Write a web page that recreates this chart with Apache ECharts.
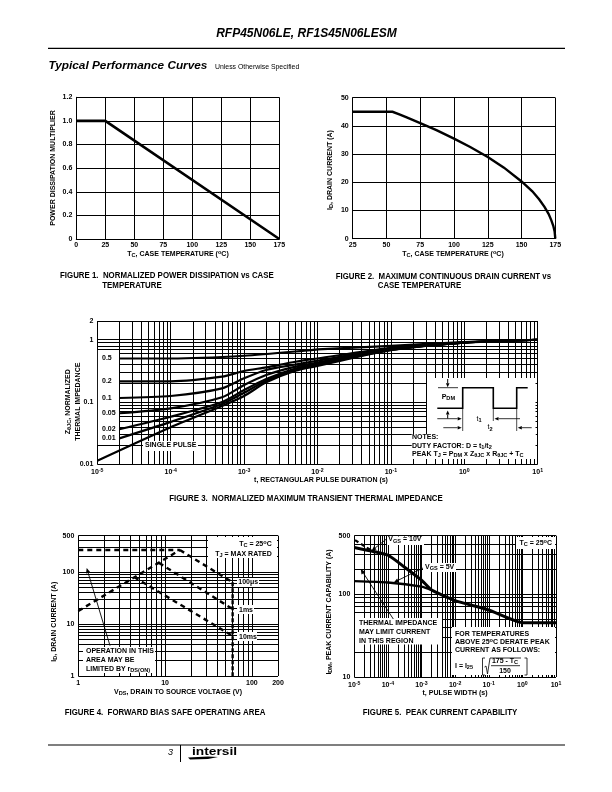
<!DOCTYPE html>
<html><head><meta charset="utf-8">
<script src="https://cdn.jsdelivr.net/npm/echarts@6/dist/echarts.min.js"></script>
<style>html,body{margin:0;padding:0;background:#fff}#c{width:612px;height:792px}</style>
</head><body><div id="c"></div>
<script>
// ---------- Figure 1
var fig1Curve = [[0,1],[25,1],[175,0]];
// ---------- Figure 2
var fig2Curve = [[25,45],[54.5,45],[60,44],[65,43],[75,41],[87,38.5],[100,35.5],[112,32.5],[125,29],[137,25.2],[150,20.3],[158,16.8],[163,14],[167,11.3],[170,8.8],[172,6.6],[173.5,4.6],[174.5,2.6],[175,0]];
// ---------- Figure 3
var fig3Gridx = [1e-5,2e-5,3e-5,4e-5,5e-5,6e-5,7e-5,8e-5,9e-5,1e-4,2e-4,3e-4,4e-4,5e-4,6e-4,7e-4,8e-4,9e-4,1e-3,2e-3,3e-3,4e-3,5e-3,6e-3,7e-3,8e-3,9e-3,1e-2,2e-2,3e-2,4e-2,5e-2,6e-2,7e-2,8e-2,9e-2,0.1,0.2,0.3,0.4,0.5,0.6,0.7,0.8,0.9,1,2,3,4,5,6,7,8,9,10];
var fig3Gridy = [0.01,0.02,0.03,0.04,0.05,0.06,0.07,0.08,0.09,0.1,0.2,0.3,0.4,0.5,0.6,0.7,0.8,0.9,1,2];
var z05 = [[2e-5,0.50],[1e-4,0.50],[1e-3,0.553],[8e-3,0.68],[1e-2,0.70],[1e-1,0.80],[1,0.92],[10,1]];
var z02 = [[2e-5,0.215],[1e-4,0.215],[5e-4,0.255],[1e-3,0.315],[2e-3,0.36],[5e-3,0.443],[1e-2,0.50],[1e-1,0.74],[1,0.91],[10,1]];
var z01 = [[2e-5,0.116],[1e-4,0.125],[5e-4,0.166],[1e-3,0.24],[2e-3,0.326],[5e-3,0.40],[1e-2,0.46],[1e-1,0.72],[1,0.90],[10,1]];
var z005 = [[2e-5,0.066],[1e-4,0.079],[5e-4,0.119],[1e-3,0.187],[2e-3,0.271],[5e-3,0.37],[1e-2,0.43],[1e-1,0.70],[1,0.90],[10,1]];
var z002 = [[2e-5,0.0365],[1e-4,0.058],[5e-4,0.10],[1e-3,0.156],[2e-3,0.235],[5e-3,0.345],[1e-2,0.41],[1e-1,0.69],[1,0.90],[10,1]];
var z001 = [[2e-5,0.0261],[1e-4,0.048],[5e-4,0.093],[1e-3,0.141],[2e-3,0.22],[5e-3,0.33],[1e-2,0.395],[1e-1,0.685],[1,0.90],[10,1]];
var zSingle = [[1e-5,0.0114],[1e-4,0.0393],[5e-4,0.0863],[1e-3,0.125],[2e-3,0.207],[5e-3,0.318],[1e-2,0.38],[1e-1,0.68],[1,0.90],[10,1]];
// ---------- Figure 4
var fig4Gridx = [1,2,3,4,5,6,7,8,9,10,20,30,40,50,60,70,80,90,100,200];
var fig4Gridy = [1,2,3,4,5,6,7,8,9,10,20,30,40,50,60,70,80,90,100,200,300,400,500];
var soaDc = [[1,265],[14.8,265]];
var soaRds = [[1,17.8],[14.8,265]];
var soa100us = [[14.8,265],[60,63.4]];
var soa1ms = [[8.5,150],[60,19.4]];
var soa10ms = [[4.4,80],[60,5.9]];
var soaLimit = [[60,63.4],[60,1]];
// ---------- Figure 5
var fig5Gridx = fig3Gridx;
var fig5Gridy = [10,20,30,40,50,60,70,80,90,100,200,300,400,500];
var vgs10 = [[1e-5,361],[1e-4,292],[3e-4,212],[1e-3,146],[2e-3,111],[1e-2,82.7],[1e-1,63.9],[1,45],[10,45]];
var vgs5 = [[1e-5,142],[1e-4,137],[1e-3,122],[2e-3,111]];
var vgs10Dash = [[1.05e-5,443],[4.1e-5,312]];

var FONT = 'Liberation Sans';
var subS = {fontFamily:FONT,fontWeight:'bold',fontSize:5.6,verticalAlign:'bottom',padding:[3,0,0,0]};
var supS = {fontFamily:FONT,fontWeight:'bold',fontSize:5.6,verticalAlign:'top',padding:[0,0,3,0]};
var RICH = {s:subS,u:supS};

function txt(x,y,t,o){o=o||{};
  return {type:'text',x:x,y:y,z:100,rotation:o.rot||0,silent:true,scaleX:o.sx||1,
    style:{text:t,fontFamily:FONT,fontWeight:o.w||'bold',fontStyle:o.i?'italic':'normal',fontSize:o.f||7,
      align:o.a||'left',verticalAlign:'middle',fill:o.c||'#000',rich:RICH}};
}
function seg(x1,y1,x2,y2,w){return {type:'line',z:100,silent:true,shape:{x1:x1,y1:y1,x2:x2,y2:y2},style:{stroke:'#000',lineWidth:w||1}};}
function arrow(x1,y1,x2,y2,w,h){h=h||4;var a=Math.atan2(y2-y1,x2-x1),b=h*0.45;
  var bx=x2-h*Math.cos(a),by=y2-h*Math.sin(a);
  return [seg(x1,y1,bx,by,w||0.8),{type:'polygon',z:100,silent:true,shape:{points:[[x2,y2],[bx+b*Math.sin(a),by-b*Math.cos(a)],[bx-b*Math.sin(a),by+b*Math.cos(a)]]},style:{fill:'#000'}}];
}

var L = [
 {g:[76.3,97.3,203,141.7],x:[0,175],y:[0,1.2]},
 {g:[352.7,97.7,202.6,141],x:[25,175],y:[0,50]},
 {g:[97.3,321,440.4,143.3],x:[1e-5,10],y:[0.01,2],log:1},
 {g:[78.3,535.7,199.7,140.3],x:[1,200],y:[1,500],log:1},
 {g:[354.3,535.7,201.7,141.3],x:[1e-5,10],y:[10,500],log:1}
];
function pd(i,px,py){var c=L[i],g=c.g,fx=(px-g[0])/g[2],fy=(g[1]+g[3]-py)/g[3];
  var lx=Math.log10(c.x[0]),hx=Math.log10(c.x[1]),ly=Math.log10(c.y[0]),hy=Math.log10(c.y[1]);
  return [Math.pow(10,lx+fx*(hx-lx)),Math.pow(10,ly+fy*(hy-ly))];}
function boxes(i,list){return list.map(function(b){return [{coord:pd(i,b[0],b[3])},{coord:pd(i,b[2],b[1])}];});}

var baseAxis={axisTick:{show:false},axisLine:{show:false},splitLine:{show:false},minorTick:{show:false}};
var labelBase={fontFamily:FONT,fontWeight:'bold',fontSize:7,color:'#000'};
var grids=[],xA=[],yA=[],series=[];
function addAxes(i,xo,yo){var g=L[i].g;
  grids.push({left:g[0],top:g[1],width:g[2],height:g[3],show:false,containLabel:false});
  xA.push(Object.assign({gridIndex:i,min:L[i].x[0],max:L[i].x[1]},baseAxis,xo));
  yA.push(Object.assign({gridIndex:i,min:L[i].y[0],max:L[i].y[1]},baseAxis,yo));
}
var linLine={show:true,lineStyle:{color:'#000',width:1}};
var linSplit={show:true,lineStyle:{color:'#000',width:1}};
addAxes(0,{type:'value',interval:25,axisLine:linLine,splitLine:linSplit,axisLabel:Object.assign({margin:3},labelBase)},
          {type:'value',interval:0.2,axisLine:linLine,splitLine:linSplit,axisLabel:Object.assign({margin:4,formatter:function(v){return v===0?'0':v.toFixed(1);}},labelBase)});
addAxes(1,{type:'value',interval:25,axisLine:linLine,splitLine:linSplit,axisLabel:Object.assign({margin:3},labelBase)},
          {type:'value',interval:10,axisLine:linLine,splitLine:linSplit,axisLabel:Object.assign({margin:4},labelBase)});
var expLabel=Object.assign({margin:4,rich:{a:{fontFamily:FONT,fontWeight:'bold',fontSize:7,color:'#000'},e:{fontFamily:FONT,fontWeight:'bold',fontSize:5.2,color:'#000',verticalAlign:'top',padding:[0,0,3,0]}},
  formatter:function(v){return '{a|10}{e|'+Math.round(Math.log10(v))+'}';}},labelBase);
function plain(v){return String(+(+v).toPrecision(3));}
addAxes(2,{type:'log',logBase:10,axisLabel:expLabel},
          {type:'log',logBase:10,axisLabel:Object.assign({margin:4,formatter:plain},labelBase)});
addAxes(3,{type:'log',logBase:10,axisLabel:Object.assign({margin:4,formatter:plain,showMaxLabel:true},labelBase)},
          {type:'log',logBase:10,axisLabel:Object.assign({margin:4,formatter:plain,showMaxLabel:true},labelBase)});
addAxes(4,{type:'log',logBase:10,axisLabel:expLabel},
          {type:'log',logBase:10,axisLabel:Object.assign({margin:4,formatter:plain,showMaxLabel:true},labelBase)});

function gridSeries(i,gx,gy,bx){
  var d=gx.map(function(v){return {xAxis:v};}).concat(gy.map(function(v){return {yAxis:v};}));
  series.push({type:'line',xAxisIndex:i,yAxisIndex:i,data:[],silent:true,animation:false,z:1,
    markLine:{z:1,silent:true,symbol:'none',animation:false,precision:10,label:{show:false},emphasis:{disabled:true},lineStyle:{color:'#000',width:1,type:'solid'},data:d},
    markArea:{z:2,silent:true,animation:false,itemStyle:{color:'#fff',opacity:1},label:{show:false},data:bx}});
}
function curve(i,d,w,dash,sm){
  series.push({type:'line',xAxisIndex:i,yAxisIndex:i,data:d,symbol:'none',z:4,silent:true,animation:false,smooth:sm||false,clip:true,
    lineStyle:{color:'#000',width:w,type:dash||'solid',cap:'butt',join:'miter'}});
}
curve(0,fig1Curve,2.6);
curve(1,fig2Curve,2.4);
gridSeries(2,fig3Gridx,fig3Gridy,boxes(2,[[97.9,350,119,445],[143,441,198,451],[427,378,535.5,435],[411.7,434,535.5,459]]));
[z05,z02,z01,z005,z002,z001,zSingle].forEach(function(c){curve(2,c,2.2,null,0.25);});
gridSeries(3,fig4Gridx,fig4Gridy,boxes(3,[[208,537,277,558],[237,578,259,587],[237,605,254,614],[237,632,257,641],[83,647,155,673]]));
[soaDc,soaRds,soa100us,soa1ms,soa10ms].forEach(function(c){curve(3,c,2.4,[5,4]);});
curve(3,soaLimit,2.4,[4,2]);
gridSeries(4,fig5Gridx,fig5Gridy,boxes(4,[[387,536.5,424,545],[516,537,555,549],[423,563,456,572],[355,618,442,644.5],[452,627,555,675]]));
curve(4,vgs10,3,null,0.15);
curve(4,vgs5,2.4,null,0.15);
curve(4,vgs10Dash,2.2,[4,3]);

var F=8.5,SX=0.927;
var g=[];
function add(a){if(Array.isArray(a))a.forEach(function(e){g.push(e);});else g.push(a);}
// page furniture
add(txt(306.5,33.5,'RFP45N06LE, RF1S45N06LESM',{f:12,i:1,a:'center'}));
add(seg(48,48.3,565,48.3,1.2));
add(txt(48.5,66,'Typical Performance Curves',{f:11.8,i:1}));
add(txt(215,67.5,'Unless Otherwise Specified',{f:6.9,w:'normal'}));
add(seg(48,745,565,745,1.2));
add(seg(180.5,745,180.5,762,1));
add(txt(168,752.5,'3',{f:9,w:'normal',i:1}));
add(txt(192,752,'intersil',{f:11,w:'900',sx:1.25}));
add({type:'polygon',z:100,silent:true,shape:{points:[[188,757.5],[208,756.5],[218,757],[208,759],[190,759.5]]},style:{fill:'#000'}});
// Fig 1
add(txt(53.3,168,'POWER DISSIPATION MULTIPLIER',{rot:Math.PI/2,a:'center'}));
add(txt(178,254,'T{s|C}, CASE TEMPERATURE ({u|o}C)',{a:'center'}));
add(txt(60,275.7,'FIGURE 1.  NORMALIZED POWER DISSIPATION vs CASE',{f:F,sx:SX}));
add(txt(102.3,285.3,'TEMPERATURE',{f:F,sx:SX}));
// Fig 2
add(txt(330,170,'I{s|D}, DRAIN CURRENT (A)',{rot:Math.PI/2,a:'center'}));
add(txt(453,253.7,'T{s|C}, CASE TEMPERATURE ({u|o}C)',{a:'center'}));
add(txt(335.7,276.7,'FIGURE 2.  MAXIMUM CONTINUOUS DRAIN CURRENT vs',{f:F,sx:SX}));
add(txt(377.7,286,'CASE TEMPERATURE',{f:F,sx:SX}));
// Fig 3
add(txt(68.3,401.7,'Z{s|θJC}, NORMALIZED',{rot:Math.PI/2,a:'center'}));
add(txt(78.3,401.7,'THERMAL IMPEDANCE',{rot:Math.PI/2,a:'center'}));
add(txt(321,480,'t, RECTANGULAR PULSE DURATION (s)',{a:'center'}));
add(txt(306,499,'FIGURE 3.  NORMALIZED MAXIMUM TRANSIENT THERMAL IMPEDANCE',{f:F,sx:SX,a:'center'}));
[['0.5',357.7],['0.2',380.7],['0.1',398.3],['0.05',412.7],['0.02',429.5],['0.01',438.5]].forEach(function(p){add(txt(102,p[1],p[0]));});
add(txt(145,444.8,'SINGLE PULSE'));
add(txt(412,437,'NOTES:'));
add(txt(412,445.7,'DUTY FACTOR: D = t{s|1}/t{s|2}'));
add(txt(412,453.7,'PEAK T{s|J} = P{s|DM} x Z{s|θJC} x R{s|θJC} + T{s|C}'));
add({type:'polyline',z:100,silent:true,shape:{points:[[437.3,408.3],[462.7,408.3],[462.7,387.7],[493.3,387.7],[493.3,408.3],[516.7,408.3],[516.7,387.7],[527.7,387.7]]},style:{stroke:'#000',fill:null,lineWidth:1.6}});
add(seg(438,387.7,458,387.7,0.8));
add(txt(441.7,396.7,'P{s|DM}'));
add(arrow(447.7,379,447.7,387.3,1));
add(arrow(447.7,418.5,447.7,410.5,1));
add(arrow(437.3,418.7,461.7,418.7,0.8));
add(arrow(520,418.7,494.5,418.7,0.8));
add(arrow(443.3,427.7,461.7,427.7,0.8));
add(arrow(531.7,427.7,517.8,427.7,0.8));
add(seg(462.7,409,462.7,431,0.7));add(seg(493.3,409,493.3,421,0.7));add(seg(516.7,409,516.7,431,0.7));
add(txt(479,418.7,'t{s|1}',{a:'center',w:'normal'}));
add(txt(490,427.5,'t{s|2}',{a:'center',w:'normal'}));
// Fig 4
add(txt(54,621.7,'I{s|D}, DRAIN CURRENT (A)',{rot:Math.PI/2,a:'center'}));
add(txt(178,691.7,'V{s|DS}, DRAIN TO SOURCE VOLTAGE (V)',{a:'center'}));
add(txt(165,713,'FIGURE 4.  FORWARD BIAS SAFE OPERATING AREA',{f:F,sx:SX,a:'center'}));
add(txt(271.7,544,'T{s|C} = 25{u|o}C',{a:'right'}));
add(txt(271.7,553.7,'T{s|J} = MAX RATED',{a:'right'}));
add(txt(238.3,582.3,'100μs'));
add(txt(239,609.7,'1ms'));
add(txt(239,636.7,'10ms'));
add(txt(86,651,'OPERATION IN THIS'));
add(txt(86,659.7,'AREA MAY BE'));
add(txt(86,669,'LIMITED BY r{s|DS(ON)}'));
add(arrow(110,645.7,86.7,568,0.9,5));
// Fig 5
add(txt(329.3,612,'I{s|DM}, PEAK CURRENT CAPABILITY (A)',{rot:Math.PI/2,a:'center'}));
add(txt(455,693,'t, PULSE WIDTH (s)',{a:'center'}));
add(txt(440,713,'FIGURE 5.  PEAK CURRENT CAPABILITY',{f:F,sx:SX,a:'center'}));
add(txt(388.3,539.5,'V{s|GS} = 10V'));
add(txt(552,543,'T{s|C} = 25{u|o}C',{a:'right'}));
add(txt(425,567,'V{s|GS} = 5V'));
add(txt(359,623.3,'THERMAL IMPEDANCE'));
add(txt(359,632.3,'MAY LIMIT CURRENT'));
add(txt(359,640.7,'IN THIS REGION'));
add(txt(455,634.3,'FOR TEMPERATURES'));
add(txt(455,642.3,'ABOVE 25{u|o}C DERATE PEAK'));
add(txt(455,650,'CURRENT AS FOLLOWS:'));
add(txt(455,665.7,'I = I{s|25}'));
add(txt(505,661,'175 - T{s|C}',{a:'center'}));
add(txt(505,671,'150',{a:'center'}));
add(arrow(386.7,538.8,371.7,550.7,0.9,4.5));
add(arrow(423,568,394,582.3,0.9,4.5));
add(arrow(393.3,619,360.7,569,0.9,5));
add({type:'polyline',z:100,silent:true,shape:{points:[[485,658],[482.5,658],[482.5,675],[485,675]]},style:{stroke:'#000',fill:null,lineWidth:0.8}});
add({type:'polyline',z:100,silent:true,shape:{points:[[524.5,658],[527,658],[527,675],[524.5,675]]},style:{stroke:'#000',fill:null,lineWidth:0.8}});
add({type:'polyline',z:100,silent:true,shape:{points:[[484.5,667],[486,666],[487.5,674],[490,658],[521,658]]},style:{stroke:'#000',fill:null,lineWidth:0.8}});
add(seg(491,665.7,520,665.7,0.8));

var chart=echarts.init(document.getElementById('c'),null,{renderer:'canvas'});
chart.setOption({animation:false,backgroundColor:'#fff',grid:grids,xAxis:xA,yAxis:yA,series:series,graphic:{z:10,elements:g}});
</script></body></html>
